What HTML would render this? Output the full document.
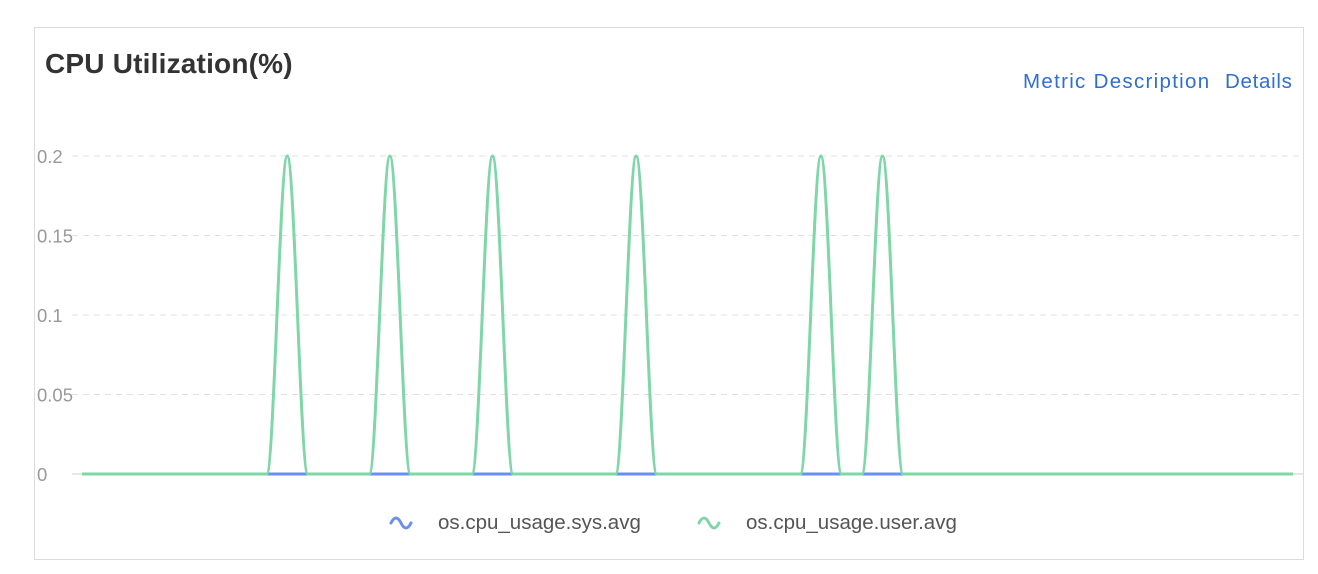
<!DOCTYPE html>
<html><head><meta charset="utf-8"><style>
body{margin:0;background:#fff;font-family:"Liberation Sans",Arial,sans-serif;}
#card{position:absolute;left:34px;top:27px;width:1268px;height:531px;border:1px solid #dcdcdc;}
#title{position:absolute;left:45px;top:48px;font-size:28px;font-weight:bold;color:#333;letter-spacing:0.2px;}
.link{position:absolute;top:70px;font-size:20.5px;color:#2f6fce;cursor:pointer;white-space:nowrap;}
</style></head><body>
<div id="card"></div>
<div id="title">CPU Utilization(%)</div>
<div class="link" style="left:1023px;letter-spacing:1.3px">Metric Description</div>
<div class="link" style="left:1225px;letter-spacing:0.7px">Details</div>
<svg id="chart" width="1318" height="574" style="position:absolute;left:0;top:0"></svg>
<script>
const yTicks=[0,0.05,0.1,0.15,0.2];
const yTickLabels=["0","0.05","0.1","0.15","0.2"];
const sysValues=Array(60).fill(0);
const userValues=[0,0,0,0,0,0,0,0,0,0,0.2,0,0,0,0,0.2,0,0,0,0,0.2,0,0,0,0,0,0,0.2,0,0,0,0,0,0,0,0,0.2,0,0,0.2,0,0,0,0,0,0,0,0,0,0,0,0,0,0,0,0,0,0,0,0];
const seriesNames=["os.cpu_usage.sys.avg","os.cpu_usage.user.avg"];
const colors=["#6a8ff0","#7fd6a8"];
const NS="http://www.w3.org/2000/svg";
const svg=document.getElementById('chart');
const x0=82,x1=1293,yBase=474,yTop=156;
const xs=i=>x0+(x1-x0)*i/(userValues.length-1);
const ys=v=>yBase-(yBase-yTop)*v/0.2;
function mk(t,a){const e=document.createElementNS(NS,t);for(const k in a)e.setAttribute(k,a[k]);svg.appendChild(e);return e;}
yTicks.forEach((t,i)=>{
  const l=mk('line',{x1:72,x2:1303,y1:ys(t),y2:ys(t),stroke:t===0?'#ccc':'#e0e0e0','stroke-width':1,'stroke-dasharray':t===0?'':'6,5'});
  
  
  const tx=mk('text',{x:37,y:ys(t)+7,'font-size':18.5,fill:'#999','font-family':'Liberation Sans, sans-serif'});
  tx.textContent=yTickLabels[i];
  
  
});
function path(vals){
  let d='M'+xs(0)+','+ys(vals[0]);
  for(let i=1;i<vals.length;i++){
    const xa=xs(i-1),xb=xs(i),dx=(xb-xa)/2.8;
    d+=' C'+(xa+dx)+','+ys(vals[i-1])+' '+(xb-dx)+','+ys(vals[i])+' '+xb+','+ys(vals[i]);
  }
  return d;
}
[sysValues,userValues].forEach((v,k)=>{
  const p=mk('path',{d:path(v),fill:'none',stroke:colors[k],'stroke-width':3});
  
  
});
[[391,438],[699,746]].forEach((p,k)=>{
  const ic=mk('path',{d:`M${p[0]},${523} q5,-10 10,0 q5,10 10,0`,fill:'none',stroke:colors[k],'stroke-width':3,'stroke-linecap':'round'});
  
  
  const t=mk('text',{x:p[1],y:529,'font-size':20.5,fill:'#555','font-family':'Liberation Sans, sans-serif'});
  t.textContent=seriesNames[k];
  
  
});
</script>
</body></html>
